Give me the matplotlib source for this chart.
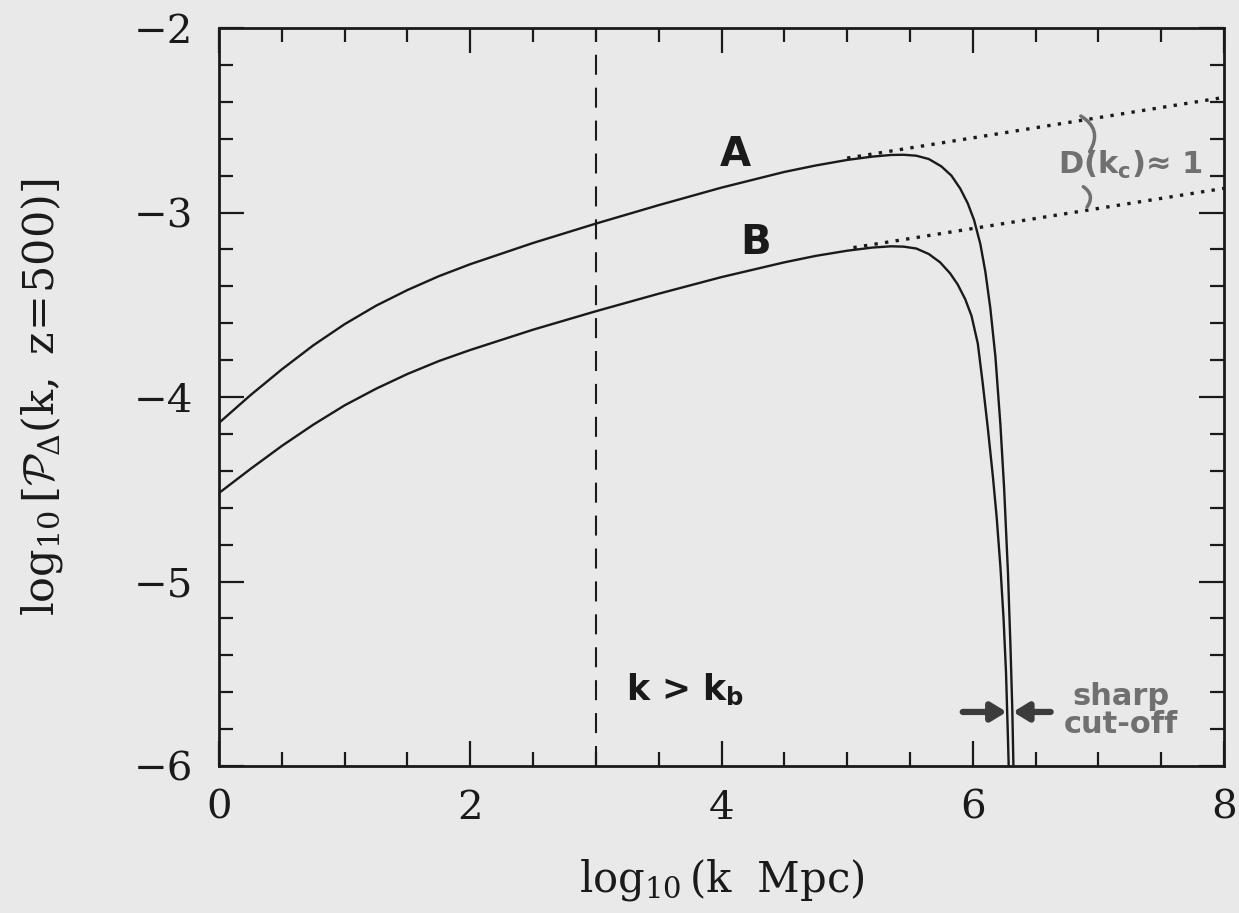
import matplotlib
matplotlib.use("Agg")
import matplotlib.pyplot as plt
from matplotlib.ticker import MultipleLocator, FixedLocator

# ---- data ----
curve_a_x = [0.0, 0.25, 0.5, 0.75, 1.0, 1.25, 1.5, 1.75, 2.0, 2.5, 3.0, 3.5, 4.0, 4.5, 4.75,
             5.0, 5.2, 5.35, 5.45, 5.55, 5.65, 5.75, 5.83, 5.9, 5.96, 6.01, 6.06, 6.1, 6.14,
             6.18, 6.22, 6.25, 6.28, 6.30, 6.315, 6.325]
curve_a_y = [-4.14, -3.99, -3.85, -3.72, -3.605, -3.505, -3.42, -3.345, -3.28, -3.165, -3.06,
             -2.96, -2.865, -2.78, -2.745, -2.715, -2.697, -2.688, -2.687, -2.692, -2.71, -2.75,
             -2.80, -2.87, -2.95, -3.04, -3.17, -3.32, -3.52, -3.78, -4.15, -4.5, -4.95, -5.35,
             -5.7, -6.05]

curve_b_x = [0.0, 0.25, 0.5, 0.75, 1.0, 1.25, 1.5, 1.75, 2.0, 2.5, 3.0, 3.5, 4.0, 4.5, 4.75,
             5.0, 5.2, 5.35, 5.45, 5.55, 5.65, 5.74, 5.82, 5.88, 5.94, 5.99, 6.04, 6.08, 6.12,
             6.16, 6.19, 6.22, 6.245, 6.265, 6.28, 6.288]
curve_b_y = [-4.52, -4.39, -4.265, -4.15, -4.045, -3.955, -3.875, -3.805, -3.745, -3.635, -3.535,
             -3.44, -3.35, -3.27, -3.235, -3.207, -3.19, -3.183, -3.185, -3.195, -3.225, -3.27,
             -3.33, -3.39, -3.47, -3.56, -3.71, -3.93, -4.17, -4.43, -4.65, -4.92, -5.2, -5.5,
             -5.85, -6.05]

ext_a_x = [5.0, 8.0]
ext_a_y = [-2.705, -2.376]
ext_b_x = [5.05, 8.0]
ext_b_y = [-3.19, -2.869]

kb_line_x = 3.0

x_ticks = [0, 2, 4, 6, 8]
x_tick_labels = ["0", "2", "4", "6", "8"]
y_ticks = [-6, -5, -4, -3, -2]
y_tick_labels = ["\u22126", "\u22125", "\u22124", "\u22123", "\u22122"]

paper = "#e9e9e9"
ink = "#1a1a1a"

plt.rcParams["mathtext.fontset"] = "custom"
plt.rcParams["mathtext.rm"] = "DejaVu Serif"
plt.rcParams["mathtext.it"] = "DejaVu Serif:italic"
plt.rcParams["mathtext.bf"] = "DejaVu Serif:bold"
plt.rcParams["mathtext.sf"] = "DejaVu Sans:bold"
plt.rcParams["mathtext.cal"] = "cmsy10"
plt.rcParams["font.family"] = ["DejaVu Serif"]

fig = plt.figure(figsize=(12.39, 9.13), dpi=100, facecolor=paper)
ax = fig.add_axes([0.1768, 0.161, 0.8111, 0.8083], facecolor=paper)

ax.plot(curve_a_x, curve_a_y, color=ink, lw=1.7, solid_joinstyle="round")
ax.plot(curve_b_x, curve_b_y, color=ink, lw=1.7, solid_joinstyle="round")
ax.plot(ext_a_x, ext_a_y, color=ink, lw=2.4, linestyle=(0, (1, 2.2)))
ax.plot(ext_b_x, ext_b_y, color=ink, lw=2.4, linestyle=(0, (1, 2.2)))
ax.axvline(kb_line_x, color=ink, lw=1.5, dashes=(9.6, 6.2))

ax.set_xlim(0, 8)
ax.set_ylim(-6, -2)

ax.xaxis.set_major_locator(FixedLocator(x_ticks))
ax.set_xticklabels(x_tick_labels)
ax.yaxis.set_major_locator(FixedLocator(y_ticks))
ax.set_yticklabels(y_tick_labels)
ax.xaxis.set_minor_locator(MultipleLocator(0.5))
ax.yaxis.set_minor_locator(MultipleLocator(0.2))

ax.tick_params(which="both", direction="in", top=True, right=True, color=ink, width=1.6)
ax.tick_params(which="major", length=18)
ax.tick_params(which="minor", length=10)
ax.tick_params(axis="x", which="major", labelsize=29, pad=17, labelcolor=ink)
ax.tick_params(axis="y", which="major", labelsize=29, pad=19, labelcolor=ink)
for s in ax.spines.values():
    s.set_linewidth(2.0)
    s.set_color(ink)

fig.text(0.5823, 0.036, r"$\log_{10}(\mathrm{k\ \ Mpc})$", ha="center", va="center",
         fontsize=30, color=ink)
fig.text(0.034, 0.565, r"$\log_{10}[\mathcal{P}_{\Delta}(\mathrm{k,\ z\!=\!500})]$",
         ha="center", va="center", rotation=90, fontsize=31, color=ink)

hand = ["DejaVu Sans"]
ax.text(4.11, -2.69, "A", fontsize=29, fontweight="bold", family=hand, color=ink,
        ha="center", va="center")
ax.text(4.27, -3.165, "B", fontsize=29, fontweight="bold", family=hand, color=ink,
        ha="center", va="center")
ax.text(3.71, -5.59, r"k > k$_\mathsf{b}$", fontsize=25, fontweight="bold", family=hand,
        color=ink, ha="center", va="center")

grey = "#707070"
ax.text(7.18, -5.70, "sharp\ncut-off", fontsize=22, fontweight="bold", family=hand,
        color=grey, ha="center", va="center", linespacing=0.95)
ax.text(7.25, -2.74, "D(k$_\\mathsf{c}$)\u2248 1", fontsize=22, fontweight="bold",
        family=hand, color=grey, ha="center", va="center")

arrow_kw = dict(arrowstyle="-|>,head_length=0.9,head_width=0.55", color="#3c3c3c", lw=4.5,
                shrinkA=0, shrinkB=0)
ax.annotate("", xy=(6.27, -5.707), xytext=(5.92, -5.707), arrowprops=arrow_kw)
ax.annotate("", xy=(6.32, -5.707), xytext=(6.62, -5.707), arrowprops=arrow_kw)

brace_kw = dict(arrowstyle="-", color=grey, lw=2.5, shrinkA=0, shrinkB=0,
                connectionstyle="arc3,rad=-0.5")
ax.annotate("", xy=(6.93, -2.67), xytext=(6.86, -2.477), arrowprops=brace_kw)
ax.annotate("", xy=(6.91, -2.97), xytext=(6.88, -2.86), arrowprops=brace_kw)

fig.savefig("out.png", dpi=100, facecolor=paper)
